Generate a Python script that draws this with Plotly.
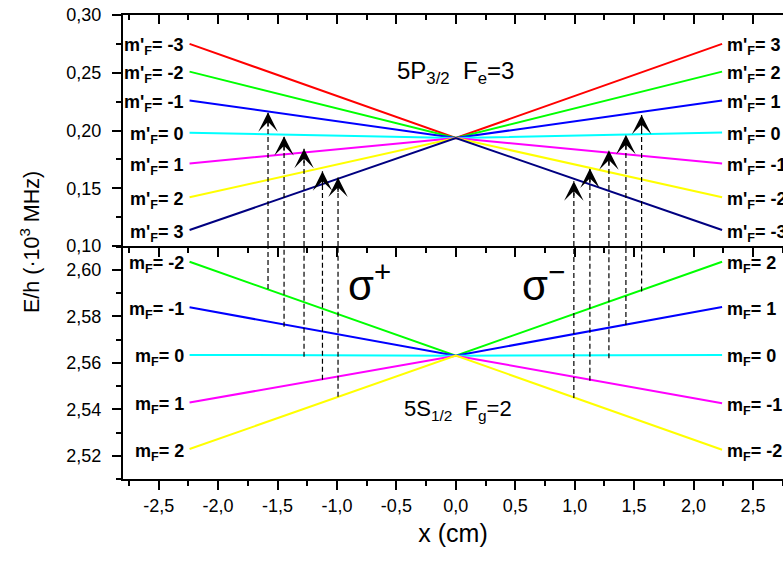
import plotly.graph_objects as go

# ---------------- data ----------------
X_END = 2.24                      # lines run from -X_END to +X_END (cm)
TOP_CENTER = 0.1935               # crossing point of excited-state lines
BOT_CENTER = 2.5631               # crossing point of ground-state lines

top_colors = ["#ff0000", "#00ff00", "#0000ff", "#00ffff", "#ff00ff", "#ffff00", "#000080"]
top_left_vals = [0.275, 0.251, 0.226, 0.198, 0.1715, 0.1422, 0.1138]
top_right_vals = [0.275, 0.251, 0.226, 0.1983, 0.1715, 0.1422, 0.1138]
top_left_labels = ["-3", "-2", "-1", "0", "1", "2", "3"]
top_right_labels = ["3", "2", "1", "0", "-1", "-2", "-3"]

bot_colors = ["#00ff00", "#0000ff", "#00ffff", "#ff00ff", "#ffff00"]
bot_left_vals = [2.6035, 2.5839, 2.5634, 2.5429, 2.5229]
bot_right_vals = [2.6035, 2.5840, 2.5634, 2.5426, 2.5226]
bot_left_labels = ["-2", "-1", "0", "1", "2"]
bot_right_labels = ["2", "1", "0", "-1", "-2"]

# transitions (dashed arrows): x position, ground-state start, excited-state tip
sp_x = [-1.580, -1.445, -1.277, -1.122, -0.991]
sp_lower = [2.5918, 2.5755, 2.5626, 2.5527, 2.5454]
sp_upper = [0.2158, 0.1951, 0.1842, 0.1647, 0.1592]
sm_x = [0.993, 1.128, 1.288, 1.431, 1.563]
sm_lower = [2.5449, 2.5523, 2.5620, 2.5763, 2.5907]
sm_upper = [0.1560, 0.1670, 0.1828, 0.1963, 0.2135]

x_tickvals = [-2.5, -2.0, -1.5, -1.0, -0.5, 0.0, 0.5, 1.0, 1.5, 2.0, 2.5]
x_ticktext = ["-2,5", "-2,0", "-1,5", "-1,0", "-0,5", "0,0", "0,5", "1,0", "1,5", "2,0", "2,5"]
ytop_tickvals = [0.10, 0.15, 0.20, 0.25, 0.30]
ytop_ticktext = ["0,10", "0,15", "0,20", "0,25", "0,30"]
ybot_tickvals = [2.52, 2.54, 2.56, 2.58, 2.60]
ybot_ticktext = ["2,52", "2,54", "2,56", "2,58", "2,60"]

X_RANGE = [-2.80, 2.7525]
YTOP_RANGE = [0.10, 0.30]
YBOT_RANGE = [2.510, 2.6103]

FONT = "Liberation Sans, Arial, sans-serif"

fig = go.Figure()

# excited-state levels (top panel)
for c, yl, yr in zip(top_colors, top_left_vals, top_right_vals):
    fig.add_trace(go.Scatter(x=[-X_END, 0, X_END], y=[yl, TOP_CENTER, yr], mode="lines",
                             line=dict(color=c, width=2), xaxis="x", yaxis="y",
                             hoverinfo="skip", showlegend=False))
# ground-state levels (bottom panel)
for c, yl, yr in zip(bot_colors, bot_left_vals, bot_right_vals):
    fig.add_trace(go.Scatter(x=[-X_END, 0, X_END], y=[yl, BOT_CENTER, yr], mode="lines",
                             line=dict(color=c, width=2), xaxis="x2", yaxis="y2",
                             hoverinfo="skip", showlegend=False))

annotations = []
DASH = "5px,3px"
for xs, lows, ups in ((sp_x, sp_lower, sp_upper), (sm_x, sm_lower, sm_upper)):
    for xv, lo, up in zip(xs, lows, ups):
        fig.add_trace(go.Scatter(x=[xv, xv], y=[lo, YBOT_RANGE[1]], mode="lines",
                                 line=dict(color="black", width=1.2, dash=DASH),
                                 xaxis="x2", yaxis="y2", hoverinfo="skip", showlegend=False))
        fig.add_trace(go.Scatter(x=[xv, xv], y=[YTOP_RANGE[0], up], mode="lines",
                                 line=dict(color="black", width=1.2, dash=DASH),
                                 xaxis="x", yaxis="y", hoverinfo="skip", showlegend=False))
        annotations.append(dict(x=xv, y=up, xref="x", yref="y", text="", showarrow=True,
                                ax=0, ay=16, arrowhead=3, arrowsize=2.7, arrowwidth=1.2,
                                arrowcolor="black", standoff=0))

LBL = dict(family=FONT, size=18, color="black")
for yl, t in zip(top_left_vals, top_left_labels):
    annotations.append(dict(x=-X_END, y=yl, xref="x", yref="y", xanchor="right", yanchor="middle",
                            xshift=-4, yshift=-3, showarrow=False, font=LBL,
                            text="<b>m'<sub>F</sub>= " + t + "</b>"))
for yr, t in zip(top_right_vals, top_right_labels):
    annotations.append(dict(x=X_END, y=yr, xref="x", yref="y", xanchor="left", yanchor="middle",
                            xshift=3, yshift=-3, showarrow=False, font=LBL,
                            text="<b>m'<sub>F</sub>= " + t + "</b>"))
for yl, t in zip(bot_left_vals, bot_left_labels):
    annotations.append(dict(x=-X_END, y=yl, xref="x2", yref="y2", xanchor="right", yanchor="middle",
                            xshift=-4, yshift=-3, showarrow=False, font=LBL,
                            text="<b>m<sub>F</sub>= " + t + "</b>"))
for yr, t in zip(bot_right_vals, bot_right_labels):
    annotations.append(dict(x=X_END, y=yr, xref="x2", yref="y2", xanchor="left", yanchor="middle",
                            xshift=3, yshift=-3, showarrow=False, font=LBL,
                            text="<b>m<sub>F</sub>= " + t + "</b>"))

annotations.append(dict(x=0.0, y=0.250, xref="x", yref="y", showarrow=False,
                        text="5P<sub>3/2</sub>\u00a0\u00a0F<sub>e</sub>=3",
                        font=dict(family=FONT, size=24, color="black")))
annotations.append(dict(x=0.02, y=2.5396, xref="x2", yref="y2", showarrow=False,
                        text="5S<sub>1/2</sub>\u00a0\u00a0F<sub>g</sub>=2",
                        font=dict(family=FONT, size=22, color="black")))
annotations.append(dict(x=-0.73, y=2.5948, xref="x2", yref="y2", showarrow=False,
                        text="σ<sup>+</sup>", font=dict(family=FONT, size=42, color="black")))
annotations.append(dict(x=0.737, y=2.5948, xref="x2", yref="y2", showarrow=False,
                        text="σ<sup>−</sup>", font=dict(family=FONT, size=42, color="black")))
annotations.append(dict(x=(30 - 123) / (783 - 123), y=(479 - 242) / (479 - 15),
                        xref="paper", yref="paper", xanchor="center", yanchor="middle",
                        showarrow=False, textangle=-90, text="E/h (·10<sup>3</sup> MHz)",
                        font=dict(family=FONT, size=21.5, color="black")))

TICKF = dict(family=FONT, size=18, color="black")
axis_common = dict(showline=True, linecolor="black", linewidth=2, showgrid=False,
                   zeroline=False, tickcolor="black", tickwidth=1.5, ticklen=9,
                   tickfont=TICKF)

top_dom = [(479 - 246) / (479 - 15), 1.0]
bot_dom = [0.0, (479 - 246) / (479 - 15)]

fig.update_layout(
    width=783, height=565,
    margin=dict(l=123, r=0, t=15, b=86),
    paper_bgcolor="white", plot_bgcolor="white",
    showlegend=False,
    font=dict(family=FONT, color="black"),
    xaxis=dict(axis_common, domain=[0, 1], range=X_RANGE, anchor="y", ticks="outside",
               tickmode="array", tickvals=x_tickvals, ticktext=x_ticktext, showticklabels=False,
               minor=dict(ticks="outside", dtick=0.25, tick0=0, ticklen=5, tickcolor="black", tickwidth=1.5)),
    xaxis3=dict(axis_common, range=X_RANGE, overlaying="x", anchor="y", side="top", ticks="inside",
                tickmode="array", tickvals=x_tickvals, ticktext=x_ticktext, showticklabels=False,
                minor=dict(ticks="inside", dtick=0.25, tick0=0, ticklen=5, tickcolor="black", tickwidth=1.5)),
    xaxis2=dict(axis_common, domain=[0, 1], range=X_RANGE, anchor="y2", ticks="outside",
                tickmode="array", tickvals=x_tickvals, ticktext=x_ticktext,
                minor=dict(ticks="outside", dtick=0.25, tick0=0, ticklen=5, tickcolor="black", tickwidth=1.5),
                title=dict(text="x (cm)", font=dict(family=FONT, size=25, color="black"), standoff=10)),
    yaxis=dict(axis_common, domain=top_dom, range=YTOP_RANGE, anchor="x", ticks="outside",
               tickmode="array", tickvals=ytop_tickvals, ticktext=ytop_ticktext, ticklabelstandoff=7,
               minor=dict(ticks="outside", dtick=0.025, tick0=0, ticklen=5, tickcolor="black", tickwidth=1.5)),
    yaxis2=dict(axis_common, domain=bot_dom, range=YBOT_RANGE, anchor="x2", ticks="outside",
                tickmode="array", tickvals=ybot_tickvals, ticktext=ybot_ticktext, ticklabelstandoff=7,
                minor=dict(ticks="outside", dtick=0.01, tick0=0, ticklen=5, tickcolor="black", tickwidth=1.5)),
    annotations=annotations,
)

# invisible point so that the top mirror axis is drawn
fig.add_trace(go.Scatter(x=[X_RANGE[0]], y=[YTOP_RANGE[0]], xaxis="x3", yaxis="y", mode="markers",
                         marker=dict(opacity=0), hoverinfo="skip", showlegend=False))

fig.write_html("out.html", config={"displayModeBar": False},
               post_script="document.body.style.margin='0px';document.body.style.overflow='hidden';")
